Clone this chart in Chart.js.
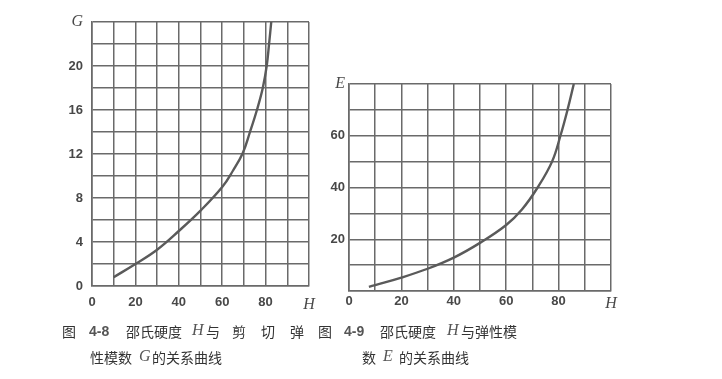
<!DOCTYPE html>
<html>
<head>
<meta charset="utf-8">
<script src="https://cdn.jsdelivr.net/npm/chart.js@4.4.1/dist/chart.umd.min.js"></script>
<style>
  html, body { margin: 0; padding: 0; background: #ffffff; }
  #wrap { position: relative; width: 722px; height: 379px; overflow: hidden; background: #fff; }
  canvas { position: absolute; left: 0; top: 0; }
  .cap { position: absolute; font-family: "Noto Sans CJK SC", sans-serif; font-size: 14px; color: #333; white-space: nowrap; line-height: 16px; }
  .it { font-family: "Liberation Serif", serif; font-style: italic; font-size: 16px; color: #555; }
  .num { font-family: "Liberation Sans", sans-serif; font-weight: bold; font-size: 14px; color: #555; }
</style>
</head>
<body>
<div id="wrap">
  <canvas id="c1" width="722" height="379"></canvas>
  <canvas id="c2" width="722" height="379"></canvas>

  <span class="cap" style="left:62px; top:323px;">图</span>
  <span class="cap num" style="left:89px; top:323px;">4-8</span>
  <span class="cap" style="left:126px; top:323px;">邵氏硬度</span>
  <span class="cap it" style="left:192px; top:322px;">H</span>
  <span class="cap" style="left:206px; top:323px;">与</span>
  <span class="cap" style="left:232px; top:323px;">剪</span>
  <span class="cap" style="left:261px; top:323px;">切</span>
  <span class="cap" style="left:290px; top:323px;">弹</span>
  <span class="cap" style="left:318px; top:323px;">图</span>
  <span class="cap num" style="left:344px; top:323px;">4-9</span>
  <span class="cap" style="left:380px; top:323px;">邵氏硬度</span>
  <span class="cap it" style="left:447px; top:322px;">H</span>
  <span class="cap" style="left:461px; top:323px;">与弹性模</span>

  <span class="cap" style="left:90px; top:349px;">性模数</span>
  <span class="cap it" style="left:139px; top:348px;">G</span>
  <span class="cap" style="left:152px; top:349px;">的关系曲线</span>
  <span class="cap" style="left:362px; top:349px;">数</span>
  <span class="cap it" style="left:383px; top:348px;">E</span>
  <span class="cap" style="left:399px; top:349px;">的关系曲线</span>
</div>
<script>
// ---- data ----
// Fig 4-8: Shore hardness H vs shear modulus G
const hardnessG = [10, 20, 30, 40, 50, 60, 65, 69.5, 72.8, 76, 78.7, 80.5, 81.6, 82.6];
const shearG    = [0.8, 2.0, 3.3, 5.0, 6.85, 9.0, 10.5, 12.1, 14, 16, 18, 20, 22, 24];
// Fig 4-9: Shore hardness H vs elastic modulus E
const hardnessE = [7.6, 10, 20, 30, 40, 50, 60, 66, 72, 77.5, 80.7, 83.4, 85.8];
const elasticE  = [1.6, 2.3, 5.2, 8.6, 12.9, 18.6, 25.5, 31.5, 40, 50, 60, 70, 80];
// tick labels
const xTickLabels  = [0, 20, 40, 60, 80];
const gTickLabels  = [0, 4, 8, 12, 16, 20];
const eTickLabels  = [20, 40, 60];
const xAxisName = 'H';
const gAxisName = 'G';
const eAxisName = 'E';

const gridColor = '#6a6a6a';
const lineColor = '#5a5a5a';
const tickColor = '#484848';
const numFont = { family: 'Liberation Sans, Arial, sans-serif', size: 13, weight: 'bold' };
const letterFont = { family: 'Liberation Serif, serif', size: 16, style: 'italic', weight: 'normal' };

function pts(xs, ys) { return xs.map((x, i) => ({ x: x, y: ys[i] })); }

function makeChart(id, xs, ys, opts) {
  return new Chart(document.getElementById(id), {
    type: 'scatter',
    data: {
      datasets: [{
        data: pts(xs, ys),
        showLine: true,
        borderColor: lineColor,
        borderWidth: 2.4,
        pointRadius: 0,
        tension: 0.4,
        fill: false
      }]
    },
    options: {
      responsive: false,
      animation: false,
      devicePixelRatio: 1,
      layout: { padding: opts.padding },
      plugins: { legend: { display: false }, tooltip: { enabled: false } },
      scales: {
        x: {
          type: 'linear', min: 0, max: 100,
          afterFit: s => { s.height = 30; },
          border: { display: true, color: gridColor, width: 1.6 },
          grid: { color: gridColor, lineWidth: 1.5, drawTicks: false },
          ticks: {
            stepSize: 10, autoSkip: false, maxRotation: 0, padding: opts.xPad,
            color: tickColor,
            font: ctx => (ctx.tick && ctx.tick.value === 100) ? letterFont : numFont,
            callback: v => v === 100 ? xAxisName : (xTickLabels.includes(v) ? String(v) : '')
          }
        },
        y: {
          type: 'linear', min: 0, max: opts.yMax,
          afterFit: s => { s.width = 40; },
          border: { display: true, color: gridColor, width: 1.6 },
          grid: { color: gridColor, lineWidth: 1.5, drawTicks: false },
          ticks: {
            stepSize: opts.yStep, autoSkip: false, padding: opts.yPad,
            color: tickColor,
            font: ctx => (ctx.tick && ctx.tick.value === opts.yMax) ? letterFont : numFont,
            callback: v => v === opts.yMax ? opts.yName : (opts.yLabels.includes(v) ? String(v) : '')
          }
        }
      }
    }
  });
}

makeChart('c1', hardnessG, shearG, {
  padding: { left: 52, right: 413, top: 22, bottom: 63 },
  yMax: 24, yStep: 2, yName: gAxisName, yLabels: gTickLabels,
  xPad: 9, yPad: 9
});
makeChart('c2', hardnessE, elasticE, {
  padding: { left: 309, right: 111, top: 84, bottom: 58 },
  yMax: 80, yStep: 10, yName: eAxisName, yLabels: eTickLabels,
  xPad: 3, yPad: 4
});
</script>
</body>
</html>
